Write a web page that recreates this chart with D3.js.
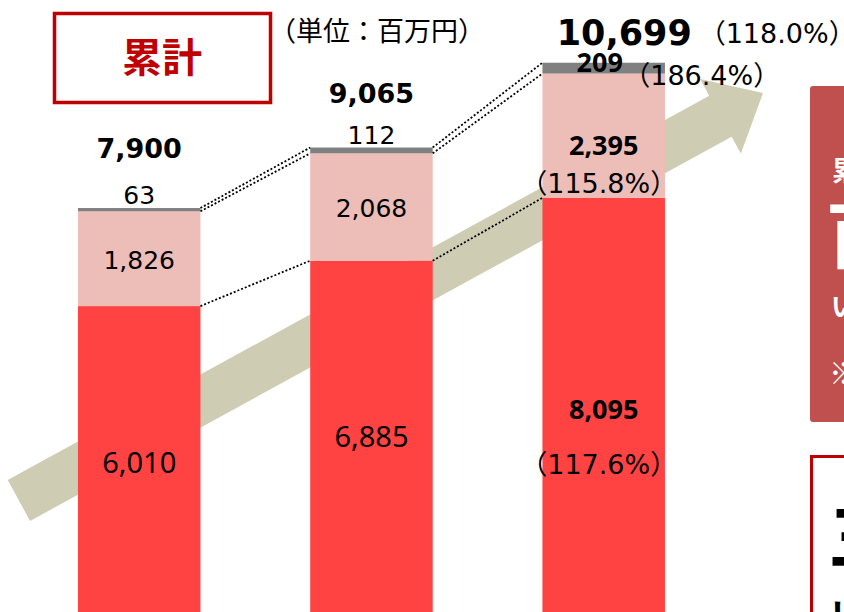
<!DOCTYPE html>
<html>
<head>
<meta charset="utf-8">
<script src="https://cdn.jsdelivr.net/npm/d3@7"></script>
<style>
  body { margin: 0; background: #fff; }
  svg { display: block; }
</style>
</head>
<body>
<div id="chart"></div>
<script>
// data (unit: million yen)
var periods = ["FY1", "FY2", "FY3"];
var baseVals = [6010, 6885, 8095];     // red segment
var midVals = [1826, 2068, 2395];      // pink segment
var topVals = [63, 112, 209];          // gray segment
var totalVals = [7900, 9065, 10699];
var basePct = [null, null, "117.6%"];
var midPct = [null, null, "115.8%"];
var topPct = [null, null, "186.4%"];
var totalPct = [null, null, "118.0%"];

var unitLabel = "（単位：百万円）";
var titleLabel = "累計";

// dimensions
var width = 844;
var height = 612;

var JP = "'Noto Sans CJK JP', sans-serif";
var DV = "'DejaVu Sans', 'Noto Sans CJK JP', sans-serif";
var NS = "'Noto Sans', 'Noto Sans CJK JP', sans-serif";

var colors = { base: "#FF4343", mid: "#EDBDB8", top: "#808080" };

var svg = d3.select("#chart")
    .append("svg")
    .attr("width", width)
    .attr("height", height);

var x = d3.scaleBand()
    .domain(periods)
    .range([-31.8, 774.7])
    .padding(0.4726);

var y = d3.scaleLinear()
    .domain([0, 10000])
    .range([618, 99]);

var fmt = d3.format(",");

var rows = periods.map(function(p, i) {
  return { period: p, base: baseVals[i], mid: midVals[i], top: topVals[i] };
});
var series = d3.stack().keys(["base", "mid", "top"])(rows);

// big background arrow
(function() {
  var start = [18.9, 500.5], tip = [763, 93];
  var shaftHalf = 23.3, headHalf = 42.5, headLen = 48.5;
  var dx = tip[0] - start[0], dy = tip[1] - start[1];
  var len = Math.sqrt(dx * dx + dy * dy);
  var u = [dx / len, dy / len], n = [u[1], -u[0]];
  var hb = [tip[0] - headLen * u[0], tip[1] - headLen * u[1]];
  function pt(p, k) { return [p[0] + k * n[0], p[1] + k * n[1]]; }
  var poly = [pt(start, shaftHalf), pt(hb, shaftHalf), pt(hb, headHalf), tip,
              pt(hb, -headHalf), pt(hb, -shaftHalf), pt(start, -shaftHalf)];
  svg.append("polygon")
      .attr("points", poly.map(function(p) { return p.join(","); }).join(" "))
      .attr("fill", "#CFCCB4");
})();

// stacked bars
svg.append("g")
  .selectAll("g")
  .data(series)
  .enter().append("g")
    .attr("fill", function(d) { return colors[d.key]; })
  .selectAll("rect")
  .data(function(d) { return d; })
  .enter().append("rect")
    .attr("x", function(d) { return x(d.data.period); })
    .attr("y", function(d) { return y(d[1]); })
    .attr("width", x.bandwidth())
    .attr("height", function(d) { return y(d[0]) - y(d[1]); });

// dotted connector lines between bars (red top, pink top, total top)
var connectors = svg.append("g")
    .attr("fill", "none")
    .attr("stroke", "#000")
    .attr("stroke-width", 1.8)
    .attr("stroke-dasharray", "2,2");

series.forEach(function(s) {
  for (var i = 0; i < periods.length - 1; i++) {
    connectors.append("line")
        .attr("x1", x(periods[i]) + x.bandwidth())
        .attr("y1", y(s[i][1]))
        .attr("x2", x(periods[i + 1]))
        .attr("y2", y(s[i + 1][1]));
  }
});

// labels
function label(txt, cx, by, size, family, weight, anchor, fill) {
  return svg.append("text")
      .attr("x", cx)
      .attr("y", by)
      .attr("text-anchor", anchor || "middle")
      .attr("font-family", family)
      .attr("font-size", size + "px")
      .attr("font-weight", weight || "normal")
      .attr("fill", fill || "#000")
      .text(txt);
}

periods.forEach(function(p, i) {
  var cx = x(p) + x.bandwidth() / 2;
  var b = series[0][i], m = series[1][i], t = series[2][i];
  if (i < 2) {
    label(fmt(baseVals[i]), cx, (y(b[0]) + y(b[1])) / 2 + 8 - (i === 0 ? -3 : 0), 29, NS);
    label(fmt(midVals[i]), cx, (y(m[0]) + y(m[1])) / 2 + 10, 25, DV);
    label(fmt(topVals[i]), cx, y(t[1]) - 4, 25, DV);
    label(fmt(totalVals[i]), cx, y(t[1]) - (i === 0 ? 50 : 45), 27, DV, "bold");
  } else {
    label(fmt(baseVals[i]), cx, y(b[1]) + 221, 27, NS, "bold");
    label("（" + basePct[i] + "）", cx - 5, y(b[1]) + 276, 27, DV);
    label(fmt(midVals[i]), cx, y(m[1]) + 81, 27, NS, "bold");
    label("（" + midPct[i] + "）", cx - 5, y(m[1]) + 119, 27, DV);
    label(fmt(topVals[i]), cx - 4, y(t[1]) + 9, 27, NS, "bold");
    label("（" + topPct[i] + "）", cx + 98, y(t[1]) + 22, 27, DV);
    label(fmt(totalVals[i]), cx - 47, y(t[1]) - 18, 35, DV, "bold", "start");
    label("（" + totalPct[i] + "）", cx + 95, y(t[1]) - 20, 27, DV, "normal", "start");
  }
});

// title box
svg.append("rect")
    .attr("x", 54.5).attr("y", 13.5)
    .attr("width", 216).attr("height", 89)
    .attr("fill", "#fff")
    .attr("stroke", "#C00000")
    .attr("stroke-width", 3.5);
label(titleLabel, 162, 72, 40, JP, "bold", "middle", "#C00000");
label(unitLabel, 377, 41, 27, JP);

// side panels (cut off by the right edge)
svg.append("rect")
    .attr("x", 810).attr("y", 86)
    .attr("width", 80).attr("height", 336)
    .attr("rx", 3)
    .attr("fill", "#C0504D");
label("累計売上高", 832, 181, 27, JP, "bold", "start", "#fff");
label("百億円突破", 826, 262, 72, JP, "bold", "start", "#fff");
label("いずれも", 831, 316, 26, JP, "bold", "start", "#fff");
label("※前年同期比", 829, 384, 30, JP, "normal", "start", "#fff");

svg.append("rect")
    .attr("x", 811.5).attr("y", 456.5)
    .attr("width", 80).attr("height", 200)
    .attr("fill", "#fff")
    .attr("stroke", "#C00000")
    .attr("stroke-width", 3);
label("三期連続", 828, 563, 72, JP, "bold", "start", "#000");
label("いずれも", 831, 628, 36, JP, "bold", "start", "#000");
</script>
</body>
</html>
